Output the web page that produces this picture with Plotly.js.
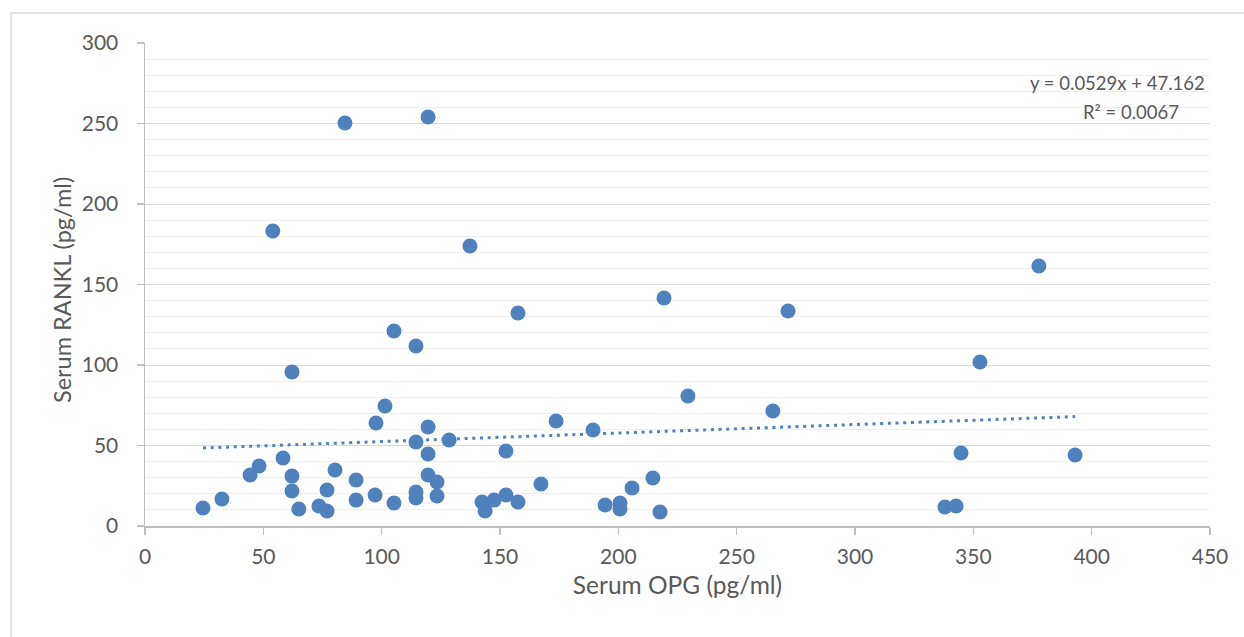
<!DOCTYPE html>
<html>
<head>
<meta charset="utf-8">
<script src="https://cdn.plot.ly/plotly-3.0.1.min.js"></script>
<style>html,body{margin:0;padding:0;background:#fff;}#chart{width:1244px;height:637px;}</style>
</head>
<body>
<div id="chart"></div>
<script>
// Serum OPG (pg/ml)
const opg = [24.5, 32.5, 44.4, 48.2, 54, 58.3, 62.1, 62.1, 62.1, 65, 73.5, 76.9, 76.9, 80.3, 84.5,
  89.2, 89.2, 97.2, 97.6, 101.4, 105.2, 105.2, 114.5, 114.5, 114.5, 114.5, 119.6, 119.6, 119.6, 119.6,
  123.4, 123.4, 128.5, 137.3, 142.4, 143.7, 147.5, 152.5, 152.5, 157.6, 157.6, 167.3, 173.7, 189.3, 194.4,
  200.7, 200.7, 205.8, 214.6, 217.6, 219.3, 229.4, 265.3, 271.7, 338, 342.7, 344.8, 352.8, 377.7, 393];
// Serum RANKL (pg/ml)
const rankl = [11.2, 16.8, 31.7, 37.3, 183.2, 42.2, 95.7, 31, 21.7, 10.6, 12.4, 22.4, 9.3, 34.8, 250.3,
  28.6, 16.1, 19.3, 64, 74.5, 121.1, 14.3, 111.8, 52.2, 21.1, 17.4, 254, 61.5, 44.7, 31.7,
  27.3, 18.6, 53.4, 173.9, 14.9, 9.3, 16.1, 46.6, 19.3, 132.3, 14.9, 26.1, 65.2, 59.6, 13,
  14.3, 10.6, 23.6, 29.8, 8.7, 141.6, 80.7, 71.4, 133.5, 11.8, 12.4, 45.3, 101.9, 161.5, 44.1];
// Linear trendline shown on the chart
const trendSlope = 0.0529;
const trendIntercept = 47.162;
const trendR2 = 0.0067;
const xTitle = 'Serum OPG (pg/ml)';
const yTitle = 'Serum RANKL (pg/ml)';

const xMin = Math.min(...opg), xMax = Math.max(...opg);
const trendX = [xMin, xMax];
const trendY = trendX.map(x => trendSlope * x + trendIntercept);

const blue = '#4f81bd';
const font = 'Lato, "Open Sans", sans-serif';
const grey = '#595959';

const traces = [
  {x: trendX, y: trendY, type: 'scatter', mode: 'lines',
   line: {color: blue, width: 3, dash: '3px,4.7px'}, hoverinfo: 'skip'},
  {x: opg, y: rankl, type: 'scatter', mode: 'markers',
   marker: {color: blue, size: 15, line: {width: 0}}}
];

const layout = {
  width: 1244, height: 637,
  margin: {l: 145, r: 34, t: 43, b: 111},
  paper_bgcolor: '#fff', plot_bgcolor: '#fff',
  showlegend: false,
  font: {family: font, color: grey, size: 21},
  xaxis: {
    range: [0, 450], dtick: 50, tick0: 0, showgrid: false, zeroline: false,
    showline: true, linecolor: '#bfbfbf', linewidth: 1.5,
    ticks: 'outside', ticklen: 7, tickcolor: '#bfbfbf', tickwidth: 1.5,
    ticklabelstandoff: 4,
    tickfont: {family: font, size: 21, color: grey},
    title: {text: xTitle, font: {family: font, size: 24.5, color: grey}, standoff: 10}
  },
  yaxis: {
    range: [0, 300], dtick: 50, tick0: 0, zeroline: false,
    showgrid: true, gridcolor: '#d9d9d9', gridwidth: 1,
    minor: {dtick: 10, showgrid: true, gridcolor: '#eeeeee', gridwidth: 1, ticks: ''},
    showline: true, linecolor: '#bfbfbf', linewidth: 1.5,
    ticks: 'outside', ticklen: 7, tickcolor: '#bfbfbf', tickwidth: 1.5,
    ticklabelstandoff: 14,
    tickfont: {family: font, size: 21, color: grey}
  },
  shapes: [
    {type: 'rect', xref: 'paper', yref: 'paper', x0: -0.1258, x1: 1.05, y0: -0.3, y1: 1.0621,
     line: {color: '#d9d9d9', width: 1.5}, fillcolor: 'rgba(0,0,0,0)', layer: 'below'}
  ],
  annotations: [
    {xref: 'paper', yref: 'paper', x: -0.0779, y: 0.4886, showarrow: false, xanchor: 'center', yanchor: 'middle',
     textangle: -90, text: yTitle, font: {family: font, size: 23.5, color: grey}},
    {xref: 'paper', yref: 'paper', x: 0.9127, y: 0.917, showarrow: false, xanchor: 'center', yanchor: 'middle',
     text: 'y = ' + trendSlope + 'x + ' + trendIntercept, font: {family: font, size: 18.5, color: grey}},
    {xref: 'paper', yref: 'paper', x: 0.9258, y: 0.857, showarrow: false, xanchor: 'center', yanchor: 'middle',
     text: 'R² = ' + trendR2.toFixed(4), font: {family: font, size: 18.5, color: grey}}
  ],
  hovermode: false
};

Plotly.newPlot('chart', traces, layout, {displayModeBar: false, staticPlot: true});
</script>
</body>
</html>
